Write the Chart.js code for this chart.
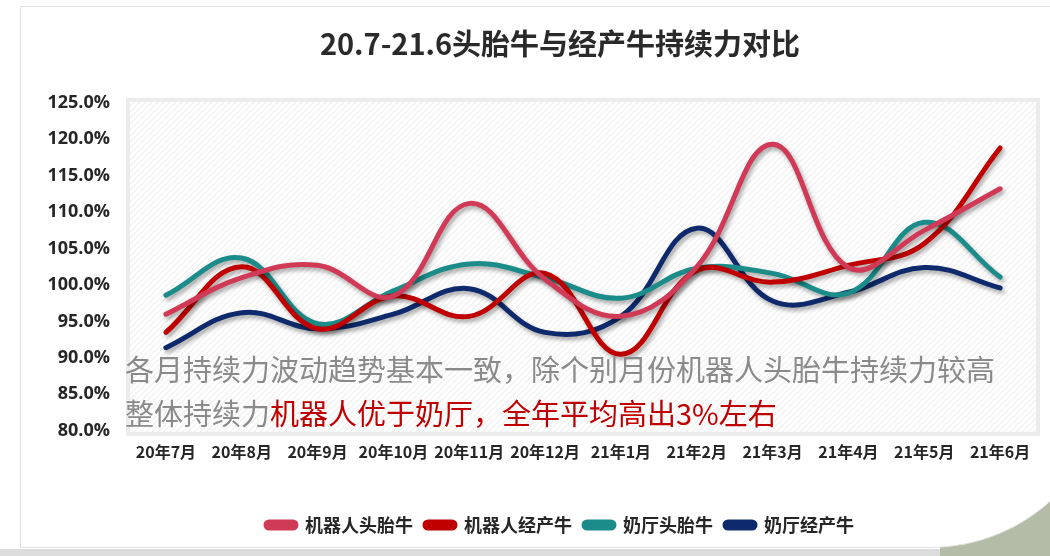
<!DOCTYPE html>
<html>
<head>
<meta charset="utf-8">
<script src="https://cdn.jsdelivr.net/npm/chart.js@4.4.0/dist/chart.umd.min.js"></script>
<style>
    html, body { margin: 0; padding: 0; }
    body { width: 1050px; height: 556px; overflow: hidden; position: relative; background: #ffffff; }
    .faixa { position: absolute; left: 0; top: 549px; width: 1050px; height: 7px; background: #dcdcdc; }
    .canto { position: absolute; left: 940px; top: 470px; width: 110px; height: 86px; background: #b3bca6; }
    .cartao {
        position: absolute; left: 20px; top: 6px; width: 1090px; height: 542px;
        background: #fff; border: 1px solid #e2e2e2; box-sizing: border-box;
        border-bottom-right-radius: 180px;
    }
    #wrap { position: absolute; left: 20px; top: 6px; width: 1080px; height: 560px; }
</style>
</head>
<body>
<div class="faixa"></div>
<div class="canto"></div>
<div class="cartao"></div>
<div id="wrap"><canvas id="grafico"></canvas></div>
<script>
// dados (%)
const meses = ['20年7月', '20年8月', '20年9月', '20年10月', '20年11月', '20年12月',
    '21年1月', '21年2月', '21年3月', '21年4月', '21年5月', '21年6月'];
const robotHeifer = [96.0, 101.0, 102.7, 98.5, 111.2, 100.8, 95.7, 102.5, 119.3, 102.4, 107.5, 113.2];
const robotCow = [93.5, 102.5, 94.0, 98.5, 95.7, 101.6, 90.5, 102.0, 100.4, 102.7, 105.7, 118.8];
const parlorHeifer = [98.6, 103.7, 94.7, 99.2, 102.9, 101.0, 98.2, 102.3, 101.6, 98.9, 108.6, 101.1];
const parlorCow = [91.4, 96.2, 94.0, 96.0, 99.5, 93.5, 95.7, 107.8, 97.8, 99.0, 102.4, 99.6];
const yMin = 80, yMax = 125, yStep = 5;

const nomes = ['机器人头胎牛', '机器人经产牛', '奶厅头胎牛', '奶厅经产牛'];
const cores = ['#d13a56', '#c00000', '#1b8c8a', '#0e2a6c'];
const series = [robotHeifer, robotCow, parlorHeifer, parlorCow];

const titulo = '20.7-21.6头胎牛与经产牛持续力对比';
const nota1 = '各月持续力波动趋势基本一致，除个别月份机器人头胎牛持续力较高';
const nota2a = '整体持续力';
const nota2b = '机器人优于奶厅，全年平均高出3%左右';

const fonteCJK = '"Noto Sans CJK SC", "Noto Sans", sans-serif';

function criarHachura() {
    const c = document.createElement('canvas');
    c.width = 6; c.height = 6;
    const g = c.getContext('2d');
    g.fillStyle = '#ffffff';
    g.fillRect(0, 0, 6, 6);
    g.strokeStyle = '#efefef';
    g.lineWidth = 1.2;
    g.beginPath();
    g.moveTo(0, 6); g.lineTo(6, 0);
    g.moveTo(-1, 1); g.lineTo(1, -1);
    g.moveTo(5, 7); g.lineTo(7, 5);
    g.stroke();
    return c;
}

const fundoPlot = {
    id: 'fundoPlot',
    beforeDatasetsDraw(chart) {
        const { ctx, chartArea: a } = chart;
        ctx.save();
        ctx.fillStyle = ctx.createPattern(criarHachura(), 'repeat');
        ctx.fillRect(a.left, a.top - 3, a.right - a.left, a.bottom - a.top + 6);
        ctx.strokeStyle = '#ececec';
        ctx.lineWidth = 4;
        ctx.strokeRect(a.left, a.top - 3, a.right - a.left, a.bottom - a.top + 6);
        ctx.restore();
    }
};

const sombra = {
    id: 'sombra',
    beforeDatasetDraw(chart) {
        const ctx = chart.ctx;
        ctx.save();
        ctx.shadowColor = 'rgba(0,0,0,0.35)';
        ctx.shadowBlur = 4;
        ctx.shadowOffsetX = 2;
        ctx.shadowOffsetY = 3;
    },
    afterDatasetDraw(chart) {
        chart.ctx.restore();
    }
};

const anotacao = {
    id: 'anotacao',
    afterDatasetsDraw(chart) {
        const ctx = chart.ctx;
        ctx.save();
        ctx.font = '29px ' + fonteCJK;
        ctx.textBaseline = 'middle';
        ctx.textAlign = 'left';
        ctx.fillStyle = '#8a8a8a';
        ctx.fillText(nota1, 105, 364);
        ctx.fillText(nota2a, 105, 408);
        const w = ctx.measureText(nota2a).width;
        ctx.fillStyle = '#c00000';
        ctx.fillText(nota2b, 105 + w, 408);
        ctx.restore();
    }
};

new Chart(document.getElementById('grafico'), {
    type: 'line',
    data: {
        labels: meses,
        datasets: series.map((s, i) => ({
            label: nomes[i],
            data: s,
            borderColor: cores[i],
            backgroundColor: cores[i],
            borderWidth: 5,
            borderCapStyle: 'round',
            borderJoinStyle: 'round',
            pointRadius: 0,
            pointHoverRadius: 0,
            tension: 0.4,
            fill: false
        }))
    },
    options: {
        responsive: true,
        maintainAspectRatio: false,
        animation: false,
        layout: { padding: { left: 28, right: 28, top: 0, bottom: 22 } },
        plugins: {
            title: {
                display: true,
                text: titulo,
                color: '#2a2a2a',
                font: { family: fonteCJK, size: 29, weight: 'bold' },
                padding: { top: 21, bottom: 41 }
            },
            legend: {
                position: 'bottom',
                labels: {
                    color: '#262626',
                    font: { family: fonteCJK, size: 18, weight: 'bold' },
                    boxWidth: 30,
                    boxHeight: 6,
                    useBorderRadius: true,
                    borderRadius: 3,
                    padding: 12
                }
            },
            tooltip: { enabled: false }
        },
        scales: {
            x: {
                offset: true,
                grid: { display: false, drawTicks: false, offset: true },
                border: { display: false },
                ticks: {
                    color: '#262626',
                    font: { family: fonteCJK, size: 16, weight: 'bold' },
                    padding: 12,
                    maxRotation: 0,
                    autoSkip: false
                },
                afterFit(scale) { scale.height += 30; }
            },
            y: {
                min: yMin,
                max: yMax,
                grid: { display: false, drawTicks: false },
                border: { display: false },
                ticks: {
                    stepSize: yStep,
                    color: '#262626',
                    font: { family: '"Open Sans", sans-serif', size: 18, weight: 'bold' },
                    padding: 18,
                    callback: (v) => v.toFixed(1) + '%'
                },
                afterFit(scale) { scale.width = 80; }
            },
            // eixo vazio à direita só para centralizar título e legenda
            yVazio: {
                position: 'right',
                display: true,
                min: yMin,
                max: yMax,
                grid: { display: false, drawTicks: false },
                border: { display: false },
                ticks: { display: false },
                afterFit(scale) { scale.width = 34; }
            }
        }
    },
    plugins: [fundoPlot, sombra, anotacao]
});
</script>
</body>
</html>
